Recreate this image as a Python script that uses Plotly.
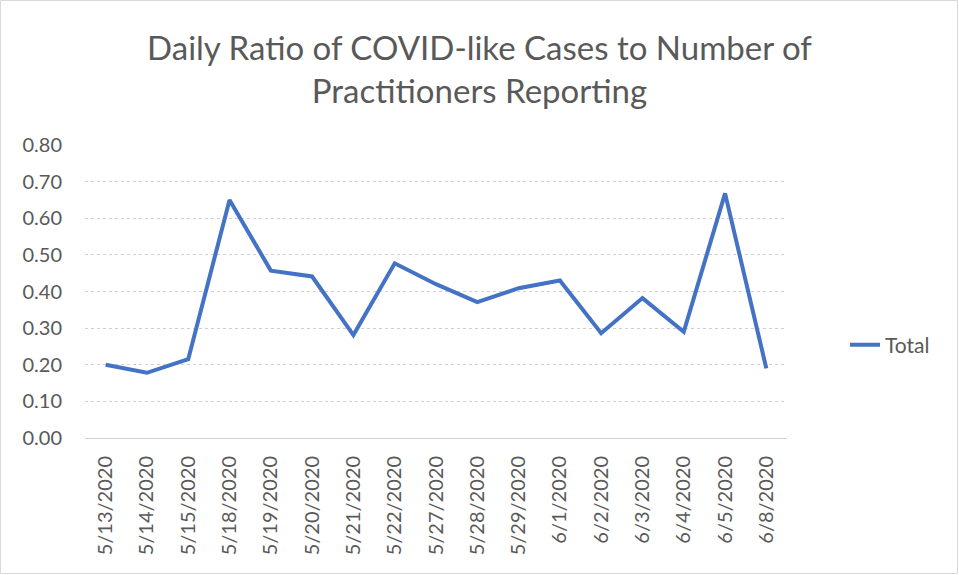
import plotly.graph_objects as go

dates = ["5/13/2020", "5/14/2020", "5/15/2020", "5/18/2020", "5/19/2020", "5/20/2020",
         "5/21/2020", "5/22/2020", "5/27/2020", "5/28/2020", "5/29/2020", "6/1/2020",
         "6/2/2020", "6/3/2020", "6/4/2020", "6/5/2020", "6/8/2020"]
total = [0.20, 0.178, 0.215, 0.650, 0.457, 0.441, 0.281, 0.477, 0.420, 0.371,
         0.409, 0.430, 0.286, 0.382, 0.290, 0.668, 0.190]
y_ticks = [0.0, 0.1, 0.2, 0.3, 0.4, 0.5, 0.6, 0.7, 0.8]

W, H = 959, 575
L, R, T, B = 85, 787, 145, 438

fig = go.Figure()
fig.add_trace(go.Scatter(x=dates, y=total, mode="lines", name="Total",
                         line=dict(color="#4472C4", width=4)))

pw, ph = R - L, B - T
def px2x(p): return (p - L) / pw
def py2y(p): return (B - p) / ph

fig.add_shape(type="rect", xref="paper", yref="paper",
              x0=px2x(0.5), x1=px2x(W - 1.5), y0=py2y(H - 1.5), y1=py2y(0.5),
              line=dict(color="#d9d9d9", width=1), fillcolor="rgba(0,0,0,0)", layer="below")

fig.update_layout(
    width=W, height=H,
    margin=dict(l=L, r=W - R, t=T, b=H - B),
    paper_bgcolor="white", plot_bgcolor="white",
    font=dict(family="Lato, Open Sans, sans-serif", color="#595959"),
    title=dict(text="Daily Ratio of COVID-like Cases to Number of<br>Practitioners Reporting",
               x=0.5, xanchor="center", xref="container",
               y=1 - 60 / H, yanchor="middle", yref="container",
               font=dict(size=33, color="#595959")),
    showlegend=True,
    legend=dict(x=px2x(845), y=py2y(345), xanchor="left", yanchor="middle",
                xref="paper", yref="paper", font=dict(size=21, color="#595959"),
                bgcolor="rgba(0,0,0,0)"),
    xaxis=dict(type="category", range=[-0.5, len(dates) - 0.5], tickangle=-90,
               showgrid=False, showline=True, linecolor="#d0d0d0", linewidth=1,
               ticks="", ticklabelstandoff=9,
               tickfont=dict(size=20, color="#595959"), zeroline=False),
    yaxis=dict(range=[0, 0.8], tickvals=y_ticks, tickformat=".2f",
               showgrid=True, gridcolor="#d0d0d0", gridwidth=1, griddash="dot",
               showline=False, zeroline=False, ticks="", ticklabelstandoff=22,
               tickfont=dict(size=20, color="#595959")),
)
fig.write_html("out.html", config={"displayModeBar": False},
               post_script="document.body.style.margin='0';")
